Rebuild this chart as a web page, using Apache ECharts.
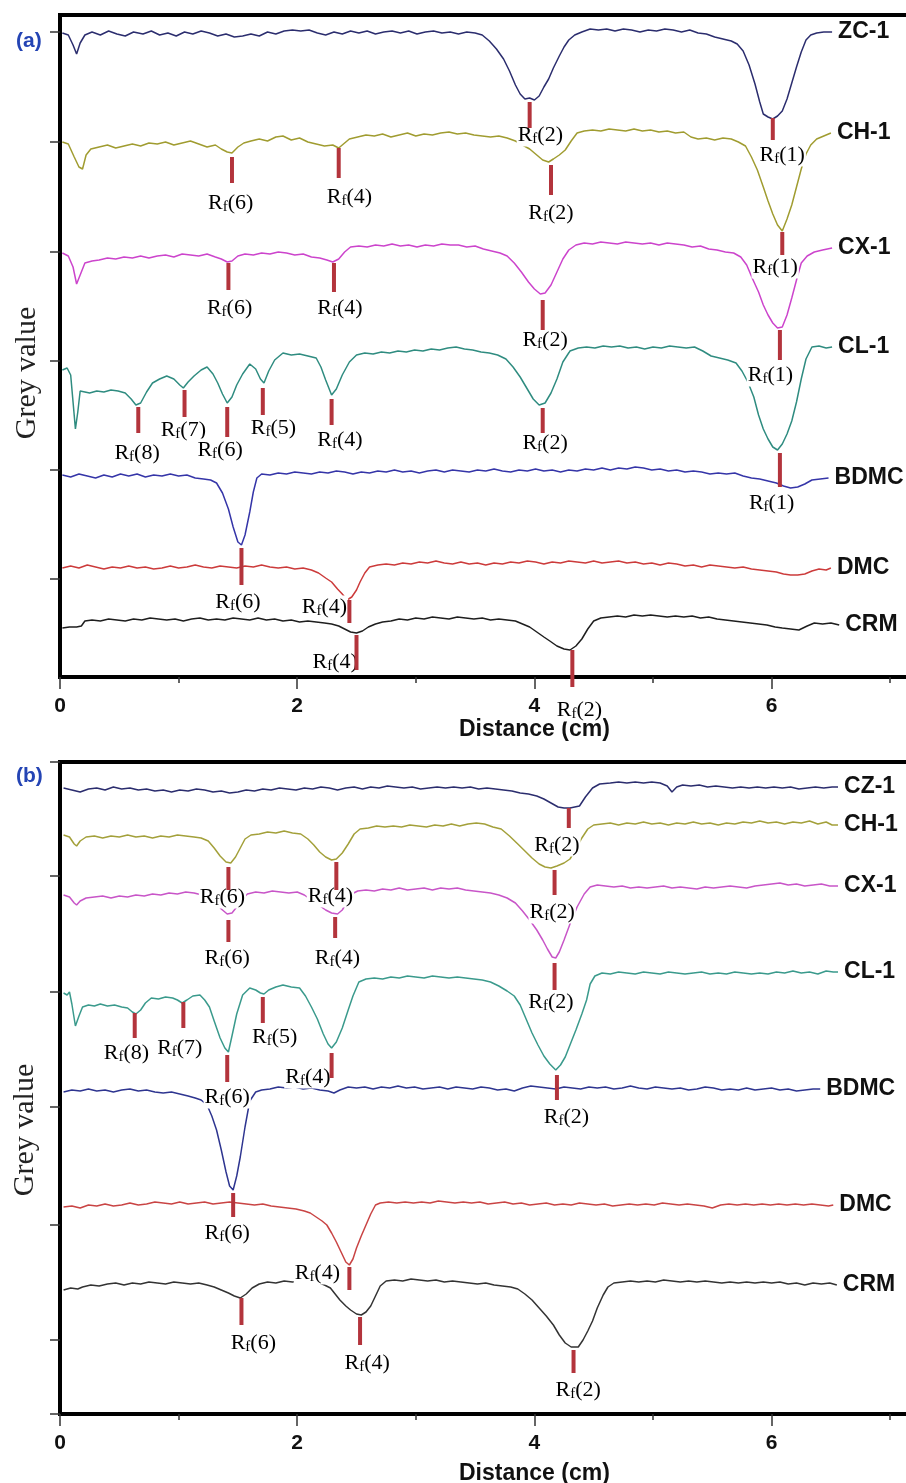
<!DOCTYPE html>
<html>
<head>
<meta charset="utf-8">
<title>Grey value profiles</title>
<script src="https://cdn.jsdelivr.net/npm/echarts@6/dist/echarts.min.js"></script>
<style>
html, body { margin: 0; padding: 0; background: #fff; }
#chart { width: 906px; height: 1483px; }
</style>
</head>
<body>
<div id="chart"></div>
<script>
// ---- data: distance (cm) vs grey value, panel (a) ----
const zc1A = [[0.02,644],[0.07,642],[0.11,632],[0.14,623],[0.17,634],[0.21,642],[0.27,645],[0.34,642],[0.41,646],[0.48,643],[0.55,641],[0.62,645],[0.70,643],[0.77,646],[0.84,642],[0.91,644],[0.98,641],[1.05,645],[1.12,643],[1.19,646],[1.26,644],[1.33,641],[1.40,643],[1.47,640],[1.54,641],[1.61,643],[1.68,641],[1.75,645],[1.82,643],[1.89,646],[1.96,647],[2.03,646],[2.10,647],[2.17,644],[2.24,642],[2.31,645],[2.38,643],[2.45,646],[2.52,644],[2.59,646],[2.66,643],[2.73,645],[2.80,646],[2.87,644],[2.94,646],[3.01,643],[3.08,645],[3.15,646],[3.22,644],[3.29,645],[3.36,643],[3.43,645],[3.50,644],[3.56,642],[3.62,636],[3.68,628],[3.74,618],[3.79,606],[3.84,592],[3.88,583],[3.92,578],[3.96,579],[4.00,577],[4.04,581],[4.08,590],[4.12,598],[4.16,609],[4.21,621],[4.25,630],[4.29,637],[4.34,642],[4.40,645],[4.47,648],[4.54,647],[4.61,648],[4.68,646],[4.75,648],[4.82,647],[4.89,645],[4.96,647],[5.03,646],[5.10,648],[5.17,647],[5.24,645],[5.31,647],[5.38,644],[5.45,643],[5.52,640],[5.59,638],[5.66,636],[5.71,633],[5.76,626],[5.81,612],[5.86,593],[5.90,575],[5.93,563],[5.97,560],[6.01,558],[6.05,561],[6.09,566],[6.13,578],[6.17,594],[6.21,610],[6.25,625],[6.29,637],[6.33,642],[6.38,644],[6.44,645],[6.51,645]];
const ch1A = [[0.02,535],[0.07,533],[0.12,520],[0.16,510],[0.19,508],[0.22,522],[0.26,528],[0.33,530],[0.40,532],[0.47,529],[0.54,531],[0.61,533],[0.68,531],[0.75,534],[0.82,533],[0.89,535],[0.96,532],[1.03,534],[1.10,536],[1.17,533],[1.24,530],[1.31,532],[1.36,528],[1.41,525],[1.45,524],[1.50,530],[1.55,534],[1.61,536],[1.68,538],[1.75,536],[1.82,540],[1.88,541],[1.95,537],[2.02,539],[2.09,535],[2.16,533],[2.23,531],[2.30,532],[2.35,529],[2.39,533],[2.44,538],[2.51,540],[2.58,542],[2.65,541],[2.72,543],[2.79,540],[2.86,542],[2.93,544],[3.00,541],[3.07,543],[3.14,542],[3.21,544],[3.28,545],[3.35,543],[3.42,544],[3.49,542],[3.56,541],[3.63,540],[3.70,541],[3.77,539],[3.84,536],[3.90,532],[3.96,528],[4.02,522],[4.07,517],[4.12,515],[4.16,518],[4.21,522],[4.26,527],[4.31,536],[4.36,544],[4.42,546],[4.49,547],[4.56,546],[4.63,548],[4.70,547],[4.77,546],[4.84,548],[4.91,546],[4.98,547],[5.05,545],[5.12,546],[5.19,544],[5.26,545],[5.32,540],[5.38,538],[5.45,539],[5.52,537],[5.59,539],[5.66,538],[5.72,535],[5.78,531],[5.83,520],[5.88,507],[5.93,490],[5.97,476],[6.01,463],[6.05,452],[6.09,446],[6.13,458],[6.17,472],[6.21,490],[6.25,508],[6.29,523],[6.33,532],[6.38,538],[6.44,541],[6.50,544]];
const cx1A = [[0.02,424],[0.07,421],[0.11,410],[0.14,393],[0.17,402],[0.21,414],[0.27,416],[0.33,417],[0.40,419],[0.47,418],[0.54,420],[0.61,419],[0.68,421],[0.75,419],[0.82,421],[0.89,422],[0.96,420],[1.03,423],[1.10,422],[1.17,421],[1.24,423],[1.31,420],[1.36,418],[1.41,415],[1.45,416],[1.50,421],[1.56,423],[1.63,422],[1.70,424],[1.77,423],[1.84,425],[1.91,424],[1.98,422],[2.05,423],[2.12,420],[2.19,419],[2.25,417],[2.30,415],[2.35,418],[2.40,425],[2.45,430],[2.52,431],[2.59,430],[2.66,432],[2.73,431],[2.80,433],[2.87,431],[2.94,432],[3.01,430],[3.08,432],[3.15,431],[3.22,433],[3.29,432],[3.36,432],[3.43,430],[3.50,431],[3.57,428],[3.64,426],[3.71,424],[3.77,421],[3.83,414],[3.89,405],[3.95,395],[4.00,388],[4.05,383],[4.09,384],[4.14,392],[4.19,405],[4.24,418],[4.29,427],[4.35,432],[4.42,434],[4.49,433],[4.56,435],[4.63,434],[4.70,433],[4.77,435],[4.84,434],[4.91,433],[4.98,434],[5.05,432],[5.12,434],[5.19,433],[5.26,432],[5.33,430],[5.40,431],[5.47,428],[5.54,427],[5.61,425],[5.68,424],[5.74,420],[5.79,412],[5.84,398],[5.89,385],[5.93,372],[5.97,362],[6.01,354],[6.05,349],[6.09,350],[6.13,362],[6.17,379],[6.21,397],[6.25,414],[6.30,421],[6.36,425],[6.43,427],[6.51,429]];
const cl1A = [[0.02,307],[0.06,309],[0.09,302],[0.11,275],[0.13,248],[0.15,265],[0.17,286],[0.21,285],[0.25,284],[0.31,286],[0.37,285],[0.43,287],[0.49,286],[0.55,284],[0.60,278],[0.64,272],[0.68,274],[0.73,285],[0.78,294],[0.84,298],[0.90,301],[0.96,298],[1.01,292],[1.04,289],[1.08,295],[1.13,301],[1.19,307],[1.24,310],[1.29,303],[1.33,294],[1.37,283],[1.41,274],[1.45,280],[1.49,292],[1.54,303],[1.60,313],[1.65,308],[1.69,298],[1.72,294],[1.76,306],[1.81,317],[1.88,324],[1.95,322],[2.02,323],[2.09,321],[2.16,319],[2.20,310],[2.24,297],[2.29,282],[2.33,288],[2.38,302],[2.44,315],[2.50,322],[2.57,324],[2.64,323],[2.71,325],[2.78,324],[2.85,326],[2.92,325],[2.99,327],[3.06,326],[3.13,328],[3.20,327],[3.27,329],[3.34,330],[3.41,328],[3.48,327],[3.55,325],[3.62,324],[3.69,322],[3.76,318],[3.82,310],[3.88,300],[3.94,288],[3.99,278],[4.04,272],[4.09,274],[4.14,284],[4.19,298],[4.24,315],[4.30,326],[4.37,329],[4.44,330],[4.51,329],[4.58,331],[4.65,330],[4.72,331],[4.79,329],[4.86,330],[4.93,328],[5.00,330],[5.07,329],[5.14,331],[5.21,330],[5.28,329],[5.35,330],[5.42,326],[5.49,321],[5.56,319],[5.63,317],[5.70,314],[5.75,306],[5.80,295],[5.85,280],[5.89,262],[5.93,248],[5.97,238],[6.01,230],[6.05,227],[6.09,233],[6.13,243],[6.17,256],[6.21,275],[6.25,298],[6.29,318],[6.34,330],[6.40,331],[6.46,329],[6.51,330]];
const bdmcA = [[0.02,202],[0.09,200],[0.16,203],[0.23,201],[0.30,199],[0.37,202],[0.44,200],[0.51,203],[0.58,201],[0.65,203],[0.72,200],[0.79,202],[0.86,201],[0.93,203],[1.00,201],[1.07,202],[1.14,199],[1.21,198],[1.27,197],[1.32,194],[1.37,184],[1.42,168],[1.46,150],[1.50,135],[1.53,132],[1.56,142],[1.60,165],[1.63,185],[1.66,199],[1.70,203],[1.77,202],[1.84,204],[1.91,203],[1.98,205],[2.05,204],[2.12,203],[2.19,205],[2.26,204],[2.33,206],[2.40,205],[2.47,203],[2.54,205],[2.61,204],[2.68,206],[2.75,205],[2.82,207],[2.89,205],[2.96,206],[3.03,204],[3.10,206],[3.17,207],[3.24,205],[3.31,207],[3.38,206],[3.45,205],[3.52,207],[3.59,206],[3.66,208],[3.73,206],[3.80,205],[3.87,207],[3.94,206],[4.01,208],[4.08,206],[4.15,207],[4.22,205],[4.29,207],[4.36,206],[4.43,208],[4.50,207],[4.57,209],[4.64,207],[4.71,209],[4.78,208],[4.85,210],[4.92,209],[4.99,207],[5.06,208],[5.13,206],[5.20,207],[5.27,205],[5.34,206],[5.41,205],[5.48,203],[5.55,204],[5.62,203],[5.69,204],[5.76,201],[5.83,199],[5.90,198],[5.97,196],[6.04,194],[6.10,191],[6.16,189],[6.22,190],[6.28,193],[6.34,197],[6.41,198],[6.48,199]];
const dmcA = [[0.02,109],[0.09,111],[0.16,109],[0.23,112],[0.30,110],[0.37,108],[0.44,110],[0.51,109],[0.58,111],[0.65,109],[0.72,110],[0.79,108],[0.86,109],[0.93,111],[1.00,109],[1.07,110],[1.14,112],[1.21,110],[1.28,109],[1.35,111],[1.42,110],[1.49,109],[1.56,111],[1.63,110],[1.70,112],[1.77,110],[1.84,109],[1.91,110],[1.98,108],[2.05,109],[2.12,107],[2.18,104],[2.24,99],[2.29,95],[2.34,88],[2.38,83],[2.42,77],[2.46,80],[2.50,87],[2.53,95],[2.57,104],[2.61,110],[2.68,112],[2.75,113],[2.82,112],[2.89,114],[2.96,113],[3.03,115],[3.10,114],[3.17,116],[3.24,114],[3.31,113],[3.38,115],[3.45,113],[3.52,114],[3.59,112],[3.66,114],[3.73,113],[3.80,115],[3.87,114],[3.94,116],[4.01,115],[4.08,113],[4.15,115],[4.22,114],[4.29,116],[4.36,115],[4.43,114],[4.50,116],[4.57,114],[4.64,115],[4.71,116],[4.78,114],[4.85,115],[4.92,113],[4.99,114],[5.06,112],[5.13,114],[5.20,113],[5.27,111],[5.34,112],[5.41,110],[5.48,112],[5.55,111],[5.62,110],[5.69,109],[5.76,110],[5.83,108],[5.90,107],[5.97,106],[6.04,105],[6.10,103],[6.16,102],[6.22,102],[6.28,103],[6.34,106],[6.40,108],[6.46,107],[6.50,109]];
const crmA = [[0.02,49],[0.08,50],[0.14,50],[0.18,51],[0.21,56],[0.27,57],[0.34,56],[0.41,58],[0.48,57],[0.55,56],[0.62,58],[0.69,57],[0.76,59],[0.83,58],[0.90,57],[0.97,58],[1.04,56],[1.11,58],[1.18,59],[1.25,57],[1.32,58],[1.39,57],[1.46,59],[1.53,58],[1.60,57],[1.67,59],[1.74,57],[1.81,58],[1.88,56],[1.95,57],[2.02,55],[2.09,56],[2.16,55],[2.23,54],[2.29,53],[2.35,51],[2.40,48],[2.45,45],[2.50,44],[2.55,46],[2.60,50],[2.66,53],[2.72,55],[2.79,56],[2.86,58],[2.93,57],[3.00,59],[3.07,58],[3.14,60],[3.21,59],[3.28,58],[3.35,60],[3.42,59],[3.49,58],[3.56,59],[3.63,57],[3.70,58],[3.77,57],[3.84,56],[3.90,53],[3.96,50],[4.02,45],[4.08,40],[4.13,36],[4.19,31],[4.25,28],[4.30,27],[4.35,31],[4.40,38],[4.45,48],[4.50,56],[4.56,59],[4.63,60],[4.70,61],[4.77,60],[4.84,62],[4.91,61],[4.98,62],[5.05,61],[5.12,60],[5.19,61],[5.26,60],[5.33,61],[5.40,59],[5.47,60],[5.54,58],[5.61,57],[5.68,56],[5.75,55],[5.82,54],[5.89,53],[5.96,52],[6.03,50],[6.09,49],[6.16,48],[6.23,47],[6.30,51],[6.36,54],[6.43,53],[6.50,54],[6.57,52]];

// ---- panel (b) ----
const cz1B = [[0.03,626],[0.10,624],[0.17,622],[0.24,625],[0.31,626],[0.38,624],[0.45,627],[0.52,625],[0.59,626],[0.66,624],[0.73,625],[0.80,623],[0.87,624],[0.94,622],[1.01,624],[1.08,623],[1.15,625],[1.22,624],[1.29,622],[1.36,623],[1.43,621],[1.50,622],[1.57,624],[1.64,623],[1.71,625],[1.78,624],[1.85,626],[1.92,625],[1.99,624],[2.06,626],[2.13,625],[2.20,627],[2.27,626],[2.34,624],[2.41,626],[2.48,627],[2.55,625],[2.62,627],[2.69,626],[2.76,628],[2.83,627],[2.90,626],[2.97,627],[3.04,625],[3.11,626],[3.18,627],[3.25,626],[3.32,627],[3.39,626],[3.46,627],[3.53,625],[3.60,626],[3.67,625],[3.74,624],[3.81,623],[3.88,621],[3.95,620],[4.02,618],[4.08,615],[4.14,611],[4.20,607],[4.25,606],[4.30,606],[4.38,608],[4.43,617],[4.49,626],[4.55,630],[4.64,631],[4.71,632],[4.78,631],[4.85,632],[4.92,631],[4.99,632],[5.06,631],[5.12,628],[5.16,622],[5.20,627],[5.25,629],[5.32,628],[5.39,629],[5.46,627],[5.53,628],[5.60,627],[5.67,626],[5.74,627],[5.81,626],[5.88,627],[5.95,626],[6.02,627],[6.09,626],[6.16,627],[6.23,625],[6.30,626],[6.37,627],[6.44,626],[6.51,627],[6.56,627]];
const ch1B = [[0.03,579],[0.08,577],[0.12,570],[0.14,568],[0.17,573],[0.22,577],[0.29,578],[0.36,576],[0.43,578],[0.50,577],[0.57,579],[0.64,577],[0.71,578],[0.78,576],[0.85,578],[0.92,577],[0.99,579],[1.06,578],[1.13,577],[1.19,576],[1.25,573],[1.30,566],[1.35,558],[1.40,552],[1.44,551],[1.48,557],[1.52,566],[1.56,575],[1.61,579],[1.68,580],[1.75,582],[1.82,581],[1.89,583],[1.96,581],[2.03,580],[2.09,575],[2.14,569],[2.19,562],[2.24,557],[2.29,554],[2.33,555],[2.38,561],[2.43,570],[2.48,580],[2.53,585],[2.60,586],[2.67,588],[2.74,587],[2.81,588],[2.88,587],[2.95,589],[3.02,588],[3.09,587],[3.16,589],[3.23,588],[3.30,590],[3.37,588],[3.44,590],[3.51,591],[3.58,590],[3.65,587],[3.72,585],[3.79,578],[3.86,570],[3.92,563],[3.98,556],[4.04,550],[4.09,547],[4.14,546],[4.19,548],[4.25,551],[4.30,555],[4.35,565],[4.40,576],[4.45,585],[4.50,589],[4.57,590],[4.64,591],[4.71,589],[4.78,591],[4.85,590],[4.92,592],[4.99,590],[5.06,591],[5.13,589],[5.20,591],[5.27,590],[5.34,592],[5.41,590],[5.48,591],[5.55,589],[5.62,591],[5.69,590],[5.76,592],[5.83,591],[5.90,593],[5.97,591],[6.04,592],[6.11,590],[6.18,592],[6.25,591],[6.32,593],[6.39,590],[6.46,592],[6.51,589],[6.56,589]];
const cx1B = [[0.03,519],[0.08,517],[0.12,511],[0.14,509],[0.17,513],[0.22,516],[0.29,517],[0.36,518],[0.43,516],[0.50,518],[0.57,517],[0.64,519],[0.71,518],[0.78,520],[0.85,519],[0.92,521],[0.99,520],[1.06,522],[1.13,521],[1.20,519],[1.26,517],[1.31,512],[1.36,505],[1.41,500],[1.45,501],[1.49,507],[1.53,514],[1.58,520],[1.65,522],[1.72,521],[1.79,523],[1.86,522],[1.93,521],[2.00,522],[2.06,519],[2.12,514],[2.18,509],[2.24,504],[2.29,501],[2.34,500],[2.38,504],[2.42,512],[2.46,520],[2.51,523],[2.58,524],[2.65,523],[2.72,525],[2.79,524],[2.86,526],[2.93,524],[3.00,525],[3.07,526],[3.14,524],[3.21,526],[3.28,525],[3.35,526],[3.42,524],[3.49,523],[3.56,522],[3.63,521],[3.70,519],[3.77,516],[3.84,511],[3.90,503],[3.96,494],[4.02,484],[4.07,474],[4.11,465],[4.15,457],[4.18,456],[4.21,462],[4.25,474],[4.30,490],[4.36,507],[4.42,520],[4.47,527],[4.53,529],[4.60,528],[4.67,527],[4.74,528],[4.81,526],[4.88,527],[4.95,526],[5.02,527],[5.09,528],[5.16,526],[5.23,527],[5.30,526],[5.37,525],[5.44,527],[5.51,526],[5.58,527],[5.65,528],[5.72,527],[5.79,526],[5.86,528],[5.93,529],[6.00,530],[6.07,531],[6.14,529],[6.21,530],[6.28,528],[6.35,529],[6.42,530],[6.49,528],[6.56,528]];
const cl1B = [[0.03,421],[0.06,419],[0.08,422],[0.10,410],[0.13,388],[0.16,398],[0.19,407],[0.24,409],[0.29,408],[0.34,410],[0.40,408],[0.46,409],[0.52,407],[0.57,406],[0.61,402],[0.64,400],[0.68,404],[0.72,411],[0.77,416],[0.83,415],[0.89,417],[0.95,416],[0.99,414],[1.03,411],[1.07,414],[1.12,418],[1.18,419],[1.22,414],[1.26,407],[1.30,393],[1.35,376],[1.39,366],[1.42,362],[1.45,378],[1.49,400],[1.54,419],[1.60,426],[1.65,424],[1.69,421],[1.72,420],[1.76,424],[1.82,427],[1.88,429],[1.95,427],[2.02,426],[2.07,418],[2.12,407],[2.17,395],[2.22,380],[2.26,370],[2.29,366],[2.33,372],[2.38,386],[2.43,404],[2.47,418],[2.52,432],[2.58,435],[2.65,436],[2.72,435],[2.79,437],[2.86,436],[2.93,438],[3.00,437],[3.07,436],[3.14,438],[3.21,437],[3.28,436],[3.35,437],[3.42,436],[3.49,435],[3.56,434],[3.63,432],[3.70,428],[3.77,423],[3.83,418],[3.88,409],[3.93,395],[3.98,381],[4.03,369],[4.08,358],[4.13,350],[4.18,344],[4.22,349],[4.26,357],[4.30,369],[4.35,384],[4.40,400],[4.44,414],[4.47,430],[4.51,438],[4.57,441],[4.64,440],[4.71,442],[4.78,441],[4.85,440],[4.92,442],[4.99,441],[5.06,440],[5.13,442],[5.20,441],[5.27,440],[5.34,441],[5.41,442],[5.48,440],[5.55,441],[5.62,440],[5.69,442],[5.76,441],[5.83,440],[5.90,441],[5.97,440],[6.04,442],[6.11,441],[6.18,443],[6.25,441],[6.32,442],[6.39,440],[6.46,443],[6.52,442],[6.56,442]];
const bdmcB = [[0.03,322],[0.10,324],[0.17,323],[0.24,325],[0.31,323],[0.38,324],[0.45,322],[0.52,324],[0.59,325],[0.66,323],[0.73,324],[0.80,322],[0.87,321],[0.94,322],[1.01,320],[1.08,318],[1.14,316],[1.19,314],[1.24,309],[1.28,298],[1.32,284],[1.36,264],[1.40,242],[1.43,228],[1.46,224],[1.49,238],[1.52,257],[1.56,287],[1.60,313],[1.65,322],[1.70,324],[1.77,325],[1.84,327],[1.91,326],[1.98,327],[2.05,325],[2.12,326],[2.19,324],[2.26,323],[2.31,321],[2.36,324],[2.43,327],[2.50,326],[2.57,327],[2.64,325],[2.71,327],[2.78,326],[2.85,328],[2.92,326],[2.99,327],[3.06,325],[3.13,326],[3.20,327],[3.27,325],[3.34,327],[3.41,326],[3.48,325],[3.55,327],[3.62,326],[3.69,324],[3.76,325],[3.83,323],[3.90,326],[3.97,328],[4.04,327],[4.11,326],[4.18,325],[4.25,327],[4.32,326],[4.39,325],[4.46,327],[4.53,326],[4.60,327],[4.67,325],[4.74,326],[4.81,328],[4.88,326],[4.95,325],[5.02,327],[5.09,326],[5.16,325],[5.23,326],[5.30,324],[5.37,325],[5.44,327],[5.51,326],[5.58,324],[5.65,325],[5.72,324],[5.79,326],[5.86,324],[5.93,325],[6.00,326],[6.07,324],[6.14,325],[6.21,323],[6.28,324],[6.35,325],[6.41,325]];
const dmcB = [[0.03,207],[0.10,208],[0.17,206],[0.24,209],[0.31,208],[0.38,210],[0.45,208],[0.52,209],[0.59,211],[0.66,209],[0.73,210],[0.80,212],[0.87,211],[0.94,210],[1.01,212],[1.08,210],[1.15,211],[1.22,212],[1.29,210],[1.36,211],[1.43,212],[1.50,211],[1.57,210],[1.64,209],[1.71,210],[1.78,208],[1.85,207],[1.92,206],[1.99,205],[2.06,203],[2.11,201],[2.16,197],[2.21,193],[2.25,189],[2.29,181],[2.33,172],[2.37,162],[2.41,152],[2.44,149],[2.47,155],[2.50,166],[2.54,178],[2.58,189],[2.62,200],[2.66,209],[2.70,211],[2.77,212],[2.84,211],[2.91,212],[2.98,211],[3.05,212],[3.12,211],[3.19,213],[3.26,212],[3.33,211],[3.40,212],[3.47,211],[3.54,212],[3.61,210],[3.68,211],[3.75,212],[3.82,210],[3.89,211],[3.96,209],[4.03,210],[4.10,211],[4.17,209],[4.24,210],[4.31,209],[4.38,211],[4.45,210],[4.52,209],[4.59,210],[4.66,208],[4.73,209],[4.80,210],[4.87,209],[4.94,210],[5.01,209],[5.08,211],[5.15,210],[5.22,209],[5.29,210],[5.36,209],[5.43,208],[5.50,206],[5.57,209],[5.64,210],[5.71,209],[5.78,210],[5.85,209],[5.92,210],[5.99,209],[6.06,210],[6.13,209],[6.20,210],[6.27,209],[6.34,210],[6.41,209],[6.48,208],[6.52,209]];
const crmB = [[0.03,124],[0.09,126],[0.15,125],[0.19,127],[0.26,129],[0.33,128],[0.40,130],[0.47,131],[0.54,129],[0.61,131],[0.68,130],[0.75,132],[0.82,131],[0.89,130],[0.96,132],[1.03,131],[1.10,130],[1.17,131],[1.24,129],[1.30,127],[1.36,124],[1.42,121],[1.47,118],[1.52,116],[1.57,120],[1.62,126],[1.68,130],[1.75,132],[1.82,131],[1.89,133],[1.96,132],[2.03,133],[2.10,132],[2.17,132],[2.23,129],[2.28,126],[2.32,120],[2.36,114],[2.41,108],[2.45,104],[2.50,100],[2.54,99],[2.58,102],[2.62,108],[2.66,118],[2.70,128],[2.75,133],[2.82,134],[2.89,133],[2.96,135],[3.03,134],[3.10,133],[3.17,134],[3.24,132],[3.31,133],[3.38,132],[3.45,131],[3.52,130],[3.59,131],[3.66,129],[3.73,128],[3.80,127],[3.86,125],[3.92,120],[3.98,114],[4.04,106],[4.10,98],[4.16,89],[4.21,79],[4.26,71],[4.31,67],[4.37,67],[4.41,74],[4.45,83],[4.49,93],[4.53,106],[4.58,119],[4.62,127],[4.67,131],[4.74,132],[4.81,133],[4.88,132],[4.95,133],[5.02,132],[5.09,134],[5.16,133],[5.23,132],[5.30,133],[5.37,132],[5.44,133],[5.51,132],[5.58,131],[5.65,132],[5.72,131],[5.79,132],[5.86,131],[5.93,132],[6.00,131],[6.07,132],[6.14,130],[6.21,131],[6.28,129],[6.35,131],[6.42,130],[6.49,131],[6.55,129]];

// Rf markers: [distance, bar top, bar bottom, Rf number, label distance, label grey value]
const rfA = [
  [3.96, 575, 549, 2, 4.05, 542], [6.01, 559, 537, 1, 6.09, 522],
  [1.45, 520, 494, 6, 1.44, 474], [2.35, 529, 499, 4, 2.44, 480], [4.14, 512, 482, 2, 4.14, 464], [6.09, 445, 422, 1, 6.03, 410],
  [1.42, 414, 387, 6, 1.43, 369], [2.31, 414, 385, 4, 2.36, 369], [4.07, 377, 347, 2, 4.09, 337], [6.07, 347, 317, 1, 5.99, 302],
  [0.66, 270, 244, 8, 0.65, 224], [1.05, 287, 260, 7, 1.04, 247], [1.41, 270, 240, 6, 1.35, 227], [1.71, 289, 262, 5, 1.80, 249],
  [2.29, 278, 252, 4, 2.36, 237], [4.07, 269, 244, 2, 4.09, 234], [6.07, 224, 190, 1, 6.00, 174],
  [1.53, 129, 92, 6, 1.50, 75],
  [2.44, 77, 54, 4, 2.23, 70],
  [2.50, 42, 7, 4, 2.32, 15], [4.32, 27, -10, 2, 4.38, -33]
];
const rfB = [
  [4.29, 606, 586, 2, 4.19, 569],
  [1.42, 547, 524, 6, 1.37, 517], [2.33, 552, 524, 4, 2.28, 518], [4.17, 544, 519, 2, 4.15, 502],
  [1.42, 494, 472, 6, 1.41, 456], [2.32, 497, 476, 4, 2.34, 456], [4.17, 451, 424, 2, 4.14, 412],
  [0.63, 401, 376, 8, 0.56, 361], [1.04, 412, 386, 7, 1.01, 366], [1.41, 359, 332, 6, 1.41, 317],
  [1.71, 417, 391, 5, 1.81, 377], [2.29, 361, 336, 4, 2.09, 337], [4.19, 339, 314, 2, 4.27, 297],
  [1.46, 221, 197, 6, 1.41, 181],
  [2.44, 147, 124, 4, 2.17, 141],
  [1.53, 116, 89, 6, 1.63, 71], [2.53, 97, 69, 4, 2.59, 51], [4.33, 64, 41, 2, 4.37, 24]
];

const namesA = ['ZC-1', 'CH-1', 'CX-1', 'CL-1', 'BDMC', 'DMC', 'CRM'];
const namesB = ['CZ-1', 'CH-1', 'CX-1', 'CL-1', 'BDMC', 'DMC', 'CRM'];
const tracesA = [zc1A, ch1A, cx1A, cl1A, bdmcA, dmcA, crmA];
const tracesB = [cz1B, ch1B, cx1B, cl1B, bdmcB, dmcB, crmB];
const yTicksA = [98, 207, 316, 425, 535, 645];
const yTicksB = [0, 74, 189, 307, 422, 538, 652];

const colorsA = ['#2b2d6e', '#a09c30', '#cc44cc', '#2f8c80', '#3535a8', '#cc3b3b', '#1e1e1e'];
const colorsB = ['#2b2d6e', '#a3a03a', '#c855c8', '#3a9a8c', '#2e3590', '#c94444', '#333333'];

const SANS = '"Liberation Sans", Arial, sans-serif';
const SERIF = '"Liberation Serif", "Times New Roman", serif';
const RF_COLOR = '#b3343c';

const chart = echarts.init(document.getElementById('chart'));

function xAxisFor(gi, nameGap) {
    return {
        gridIndex: gi, type: 'value', min: 0, max: 8, interval: 2,
        name: 'Distance (cm)', nameLocation: 'middle', nameGap: nameGap,
        nameTextStyle: { fontFamily: SANS, fontSize: 23, fontWeight: 'bold', color: '#111' },
        axisLine: { onZero: false, lineStyle: { color: '#000', width: 4 } },
        axisTick: { length: 12, lineStyle: { color: '#333', width: 1.5 } },
        minorTick: { show: true, splitNumber: 2, length: 6, lineStyle: { color: '#333', width: 1.5 } },
        axisLabel: { margin: 19, fontFamily: SANS, fontSize: 21, fontWeight: 'bold', color: '#111', showMaxLabel: false },
        splitLine: { show: false }
    }
}

function yAxisFor(gi, max, ticks) {
    return {
        gridIndex: gi, type: 'value', min: 0, max: max,
        axisLine: { show: true, onZero: false, lineStyle: { color: '#000', width: 4 } },
        axisTick: { show: true, length: 10, customValues: ticks, lineStyle: { color: '#333', width: 1.5 } },
        axisLabel: { show: false },
        splitLine: { show: false }
    }
}

function traceSeries(name, data, color, gi) {
    return {
        type: 'line', name: name, data: data,
        xAxisIndex: gi, yAxisIndex: gi,
        showSymbol: false, silent: true, z: 2,
        lineStyle: { color: color, width: 1.5 },
        itemStyle: { color: color },
        endLabel: {
            show: true, formatter: name, distance: 6,
            fontFamily: SANS, fontSize: 23, fontWeight: 'bold', color: '#111'
        }
    }
}

const rfRich = {
    r: { fontFamily: SERIF, fontSize: 22, color: '#1a1a1a', lineHeight: 23 },
    f: { fontFamily: SERIF, fontSize: 15, color: '#1a1a1a', lineHeight: 13, verticalAlign: 'bottom' }
};

// red bars marking each Rf spot
function rfBarSeries(data, gi) {
    return {
        type: 'custom', xAxisIndex: gi, yAxisIndex: gi, data: data,
        clip: false, silent: true, z: 6,
        renderItem: function (params, api) {
            const top = api.coord([api.value(0), api.value(1)]);
            const bot = api.coord([api.value(0), api.value(2)]);
            return {
                type: 'rect',
                shape: { x: top[0] - 2, y: top[1], width: 4, height: bot[1] - top[1] },
                style: { fill: RF_COLOR }
            };
        }
    }
}

// Rf(n) labels, white boxed like the original
function rfLabelSeries(data, gi) {
    return {
        type: 'custom', xAxisIndex: gi, yAxisIndex: gi, data: data,
        clip: false, silent: true, z: 5,
        renderItem: function (params, api) {
            const pos = api.coord([api.value(4), api.value(5)]);
            return {
                type: 'text', x: pos[0], y: pos[1],
                style: {
                    text: '{r|R}{f|f}{r|(' + api.value(3) + ')}',
                    rich: rfRich, align: 'center', verticalAlign: 'middle',
                    backgroundColor: '#fff', padding: [0, 1]
                }
            };
        }
    }
}

const series = [];
tracesA.forEach((d, i) => series.push(traceSeries(namesA[i], d, colorsA[i], 0)));
tracesB.forEach((d, i) => series.push(traceSeries(namesB[i], d, colorsB[i], 1)));
series.push(rfLabelSeries(rfA, 0), rfBarSeries(rfA, 0));
series.push(rfLabelSeries(rfB, 1), rfBarSeries(rfB, 1));

const greyTitle = { text: 'Grey value', font: '30px ' + SERIF, fill: '#222', align: 'center', verticalAlign: 'middle' };

const option = {
    animation: false,
    backgroundColor: '#fff',
    title: [
        { text: '(a)', left: 16, top: 31, padding: 0, textStyle: { fontFamily: SANS, fontSize: 21, fontWeight: 'bold', color: '#2444b4' } },
        { text: '(b)', left: 16, top: 766, padding: 0, textStyle: { fontFamily: SANS, fontSize: 21, fontWeight: 'bold', color: '#2444b4' } }
    ],
    graphic: [
        { type: 'text', x: 27, y: 373, rotation: Math.PI / 2, silent: true, style: greyTitle },
        { type: 'text', x: 25, y: 1130, rotation: Math.PI / 2, silent: true, style: greyTitle }
    ],
    grid: [
        { left: 60, top: 15, width: 948.8, height: 662, show: true, borderColor: '#000', borderWidth: 4, backgroundColor: 'transparent', containLabel: false, outerBoundsMode: 'none' },
        { left: 60, top: 762, width: 948.8, height: 652, show: true, borderColor: '#000', borderWidth: 4, backgroundColor: 'transparent', containLabel: false, outerBoundsMode: 'none' }
    ],
    xAxis: [xAxisFor(0, 40), xAxisFor(1, 48)],
    yAxis: [yAxisFor(0, 662, yTicksA), yAxisFor(1, 652, yTicksB)],
    series: series
};

chart.setOption(option);

window.addEventListener('resize', () => chart.resize());
</script>
</body>
</html>
